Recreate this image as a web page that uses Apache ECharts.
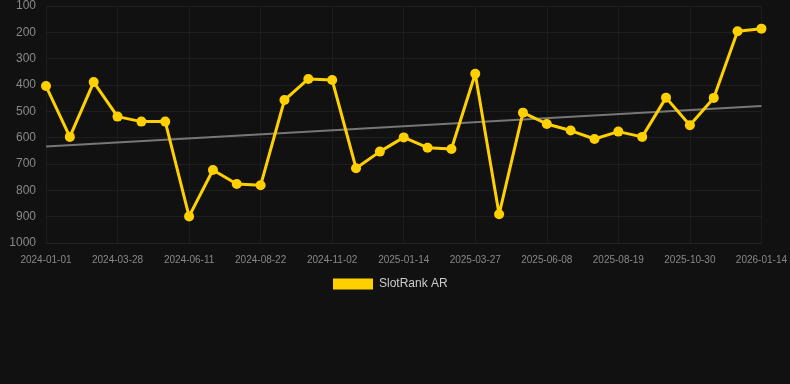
<!DOCTYPE html>
<html><head><meta charset="utf-8">
<script src="https://cdn.jsdelivr.net/npm/echarts@6/dist/echarts.min.js"></script>
<style>html,body{margin:0;padding:0;background:#111111;}#c{width:790px;height:384px;}</style>
</head><body><div id="c"></div>
<script>
var categories = ["2024-01-01","2024-01-30","2024-02-28","2024-03-28","2024-04-22","2024-05-17","2024-06-11","2024-07-05","2024-07-29","2024-08-22","2024-09-15","2024-10-09","2024-11-02","2024-11-26","2024-12-20","2025-01-14","2025-02-07","2025-03-03","2025-03-27","2025-04-20","2025-05-15","2025-06-08","2025-07-02","2025-07-26","2025-08-19","2025-09-12","2025-10-06","2025-10-30","2025-11-24","2025-12-19","2026-01-14"];
var rankValues = [404,597,389,520,539,539,899,723,776,781,457,377,381,716,653,599,638,643,357,891,505,548,573,605,577,597,448,553,449,196,186];
var trendValues = [634,480];
var yTicks = [100,200,300,400,500,600,700,800,900,1000];
var seriesName = "SlotRank AR";

var trendData = categories.map(function(){return null;});
trendData[0] = trendValues[0];
trendData[categories.length-1] = trendValues[1];

var chart = echarts.init(document.getElementById('c'));
chart.setOption({
  backgroundColor: '#111111',
  animation: false,
  grid: {left: 46, right: 28, top: 6, bottom: 141},
  legend: {
    top: 278, left: 333, padding: 0,
    itemWidth: 40, itemHeight: 11, itemGap: 6,
    textStyle: {color: '#cccccc', fontSize: 12, fontFamily: 'Liberation Sans, Arial, sans-serif', padding: [0,0,0,1]},
    data: [{name: seriesName, icon: 'rect'}]
  },
  xAxis: {
    type: 'category', boundaryGap: false, data: categories,
    axisLine: {lineStyle: {color: '#242424'}},
    axisTick: {show: false},
    axisLabel: {interval: 2, color: '#888888', fontSize: 10, margin: 12, fontFamily: 'Liberation Sans, Arial, sans-serif'},
    splitLine: {show: true, interval: 2, lineStyle: {color: '#1c1c1c'}}
  },
  yAxis: {
    type: 'value', inverse: true, min: yTicks[0], max: yTicks[yTicks.length-1], interval: 100,
    axisLine: {show: false}, axisTick: {show: false},
    axisLabel: {color: '#888888', fontSize: 12, margin: 10, fontFamily: 'Liberation Sans, Arial, sans-serif',
      formatter: function(v){return String(v);}},
    splitLine: {lineStyle: {color: '#1e1e1e'}}
  },
  series: [
    {
      name: 'trend', type: 'line', data: trendData, connectNulls: true,
      symbol: 'none', silent: true,
      lineStyle: {color: '#777777', width: 2}, z: 1
    },
    {
      name: seriesName, type: 'line', data: rankValues,
      symbol: 'circle', symbolSize: 10,
      itemStyle: {color: '#ffd000'},
      lineStyle: {color: '#ffd000', width: 3}, z: 2
    }
  ]
});
</script></body></html>
